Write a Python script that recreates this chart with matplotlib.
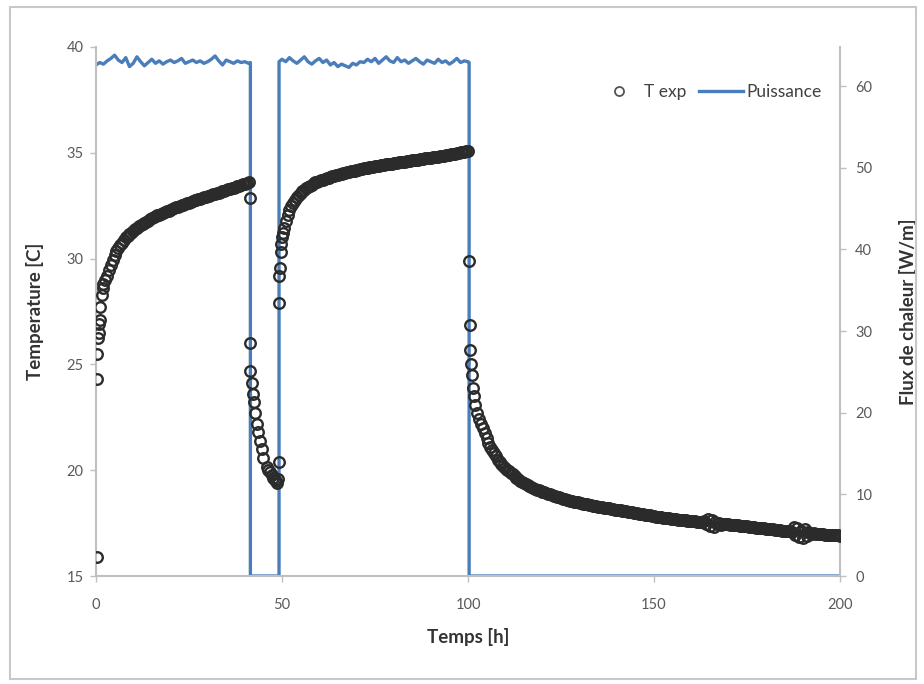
import matplotlib
matplotlib.use("Agg")
import matplotlib.pyplot as plt
from matplotlib.patches import Rectangle
from matplotlib.lines import Line2D

plt.rcParams['font.family'] = ['Lato', 'DejaVu Sans']

# ---------------- data ----------------
# Isolated measurements (fast transients), time [h] / temperature [C]
t_iso = [0.2, 0.3, 0.4, 0.6, 0.7, 0.8, 1.0, 1.2, 1.5, 1.8, 41.3,
         41.4, 41.45, 41.9, 42.3, 42.4, 42.7, 43.2, 43.6, 44.1, 44.5, 45.0,
         45.9, 46.3, 46.8, 47.2, 47.6, 48.0, 48.3, 48.7,
         49.0, 49.1, 49.2, 49.3, 49.4, 49.6, 49.8, 50.0, 50.2,
         100.3, 100.5, 100.6, 100.8, 101.0, 101.3, 101.6]
T_iso = [15.9, 24.3, 25.5, 26.25, 26.5, 26.9, 27.1, 27.7, 28.3, 28.6, 32.85,
         26.0, 24.7, 24.1, 23.6, 23.2, 22.7, 22.2, 21.8, 21.4, 21.0, 20.6,
         20.15, 20.0, 19.9, 19.75, 19.65, 19.55, 19.5, 19.4,
         19.6, 20.4, 27.9, 29.2, 29.55, 30.3, 30.7, 31.0, 31.2,
         29.9, 26.85, 25.7, 25.0, 24.5, 23.9, 23.5]

# Regularly logged measurements (every 0.5 h)
step_h = 0.5
start_heat1 = 2.0
T_heat1 = [28.8, 29.0, 29.2, 29.45, 29.7, 29.95, 30.15, 30.35, 30.5, 30.65,
           30.75, 30.9, 31.0, 31.08, 31.15, 31.22, 31.3, 31.38, 31.45, 31.52,
           31.58, 31.64, 31.7, 31.75, 31.8, 31.85, 31.9, 31.95, 32.0, 32.04,
           32.08, 32.12, 32.16, 32.2, 32.24, 32.27, 32.3, 32.34, 32.38, 32.42,
           32.45, 32.48, 32.52, 32.55, 32.58, 32.62, 32.65, 32.69, 32.72, 32.75,
           32.78, 32.81, 32.84, 32.87, 32.9, 32.92, 32.95, 32.98, 33.0, 33.03,
           33.06, 33.09, 33.12, 33.15, 33.18, 33.21, 33.24, 33.27, 33.3, 33.33,
           33.36, 33.39, 33.42, 33.45, 33.48, 33.51, 33.54, 33.57, 33.6]

start_heat2 = 50.5
T_heat2 = [31.45, 31.8, 32.05, 32.3, 32.5, 32.65, 32.78, 32.9, 33.0, 33.1,
           33.18, 33.25, 33.33, 33.4, 33.45, 33.5, 33.55, 33.6, 33.64, 33.67,
           33.7, 33.73, 33.77, 33.8, 33.83, 33.85, 33.88, 33.9, 33.93, 33.95,
           33.98, 34.0, 34.03, 34.05, 34.08, 34.1, 34.12, 34.14, 34.16, 34.18,
           34.2, 34.22, 34.24, 34.26, 34.28, 34.3, 34.32, 34.33, 34.35, 34.36,
           34.38, 34.39, 34.41, 34.42, 34.44, 34.45, 34.47, 34.48, 34.49, 34.5,
           34.52, 34.53, 34.55, 34.56, 34.57, 34.58, 34.6, 34.61, 34.63, 34.64,
           34.66, 34.67, 34.68, 34.69, 34.71, 34.72, 34.74, 34.75, 34.76, 34.77,
           34.79, 34.8, 34.81, 34.82, 34.84, 34.85, 34.87, 34.88, 34.9, 34.91,
           34.93, 34.94, 34.96, 34.98, 35.0, 35.02, 35.04, 35.06, 35.08, 35.1]

start_cool = 102.0
T_cool = [23.1, 22.7, 22.4, 22.2, 22.0, 21.75, 21.5, 21.3, 21.1, 20.95,
          20.8, 20.65, 20.5, 20.4, 20.3, 20.2, 20.1, 20.02, 19.95, 19.87,
          19.8, 19.72, 19.65, 19.57, 19.5, 19.45, 19.4, 19.35, 19.3, 19.25,
          19.2, 19.16, 19.12, 19.08, 19.05, 19.01, 18.98, 18.95, 18.92, 18.89,
          18.86, 18.83, 18.8, 18.77, 18.74, 18.71, 18.68, 18.65, 18.63, 18.6,
          18.58, 18.56, 18.54, 18.52, 18.5, 18.48, 18.46, 18.44, 18.42, 18.4,
          18.38, 18.36, 18.35, 18.33, 18.32, 18.3, 18.28, 18.26, 18.25, 18.23,
          18.22, 18.2, 18.19, 18.17, 18.16, 18.14, 18.13, 18.11, 18.1, 18.08,
          18.07, 18.05, 18.04, 18.02, 18.01, 17.99, 17.98, 17.96, 17.95, 17.93,
          17.92, 17.9, 17.89, 17.87, 17.86, 17.84, 17.83, 17.81, 17.8, 17.79,
          17.78, 17.76, 17.75, 17.74, 17.73, 17.71, 17.7, 17.69, 17.68, 17.67,
          17.66, 17.65, 17.64, 17.63, 17.62, 17.61, 17.6, 17.59, 17.58, 17.57,
          17.56, 17.55, 17.54, 17.6, 17.45, 17.7, 17.35, 17.65, 17.3, 17.55,
          17.45, 17.5, 17.4, 17.47, 17.46, 17.45, 17.44, 17.43, 17.42, 17.41,
          17.4, 17.39, 17.38, 17.37, 17.36, 17.35, 17.34, 17.33, 17.32, 17.31,
          17.3, 17.29, 17.28, 17.27, 17.26, 17.25, 17.24, 17.23, 17.22, 17.21,
          17.2, 17.19, 17.18, 17.17, 17.16, 17.15, 17.14, 17.13, 17.12, 17.11,
          17.1, 17.3, 16.95, 17.25, 16.85, 17.15, 16.8, 17.2, 16.9, 17.1,
          17.05, 17.0, 17.02, 16.99, 17.0, 16.98, 16.97, 16.98, 16.96, 16.95,
          16.95, 16.94, 16.93, 16.93, 16.92, 16.92, 16.91]

# Heat flux (Puissance), W/m
t_power = [0, 1, 2, 3, 4, 5, 6, 7, 8, 9, 10, 11, 12, 13, 14, 15, 16, 17, 18, 19,
           20, 21, 22, 23, 24, 25, 26, 27, 28, 29, 30, 31, 32, 33, 34, 35, 36, 37,
           38, 39, 40, 41, 41.5, 41.5, 49.2, 49.2,
           50, 51, 52, 53, 54, 55, 56, 57, 58, 59, 60, 61, 62, 63, 64, 65, 66, 67,
           68, 69, 70, 71, 72, 73, 74, 75, 76, 77, 78, 79, 80, 81, 82, 83, 84, 85,
           86, 87, 88, 89, 90, 91, 92, 93, 94, 95, 96, 97, 98, 99, 100, 100.3,
           100.3, 200]
P_power = [62.6, 62.9, 62.7, 63.1, 63.4, 63.8, 63.2, 62.9, 63.5, 62.4, 62.8,
           63.6, 63.0, 62.5, 62.9, 63.3, 62.8, 63.1, 62.7, 63.0, 63.2, 62.9, 63.1,
           63.4, 62.8, 63.0, 63.2, 62.9, 63.1, 62.8, 63.0, 63.3, 63.7, 63.1, 62.6,
           63.2, 63.0, 62.8, 63.1, 62.9, 63.0, 62.8, 62.9, 0, 0, 63.0,
           63.3, 63.0, 63.5, 63.1, 62.8, 63.2, 63.6, 63.0, 62.7, 63.1, 63.4, 62.9,
           63.2, 62.6, 62.9, 62.4, 62.7, 62.5, 62.3, 62.8, 62.6, 63.0, 62.9, 63.3,
           63.0, 63.4, 62.8, 63.2, 63.6, 63.1, 62.9, 63.5, 63.0, 63.2, 62.8, 63.1,
           63.4, 63.0, 62.7, 63.2, 63.0, 62.8, 63.3, 62.9, 63.1, 62.7, 63.0, 63.4,
           62.9, 63.1, 63.0, 62.9, 0, 0]

T_ticks = [15, 20, 25, 30, 35, 40]
P_ticks = [0, 10, 20, 30, 40, 50, 60]
x_ticks = [0, 50, 100, 150, 200]


def times(start, values):
    return [start + step_h * i for i in range(len(values))]


# ---------------- figure ----------------
W, H = 924, 684
fig = plt.figure(figsize=(W / 100, H / 100), dpi=100)
fig.patch.set_facecolor('white')

fig.add_artist(Rectangle((10 / W, 5 / H), 906 / W, 672 / H, transform=fig.transFigure,
                         fill=False, edgecolor='#c8c8c8', linewidth=1.5))

ax = fig.add_axes([96 / W, 1 - 576 / H, (840 - 96) / W, (576 - 47) / H])
ax2 = ax.twinx()

axis_gray = '#bfbfbf'
tick_col = '#595959'
blue = '#4a7ebb'
mk = dict(linestyle='none', marker='o', markersize=7.6, markerfacecolor='none',
          markeredgecolor='#2b2b2b', markeredgewidth=1.7, zorder=3)

ax.plot(t_iso, T_iso, **mk)
ax.plot(times(start_heat1, T_heat1), T_heat1, **mk)
ax.plot(times(start_heat2, T_heat2), T_heat2, **mk)
ax.plot(times(start_cool, T_cool), T_cool, **mk)

ax2.plot(t_power, P_power, color=blue, linewidth=2.4, zorder=2)

ax.set_xlim(0, 200)
ax.set_ylim(15, 40)
ax2.set_ylim(0, 64.8)
ax.set_zorder(ax2.get_zorder() + 1)
ax.patch.set_visible(False)

ax.set_xticks(x_ticks)
ax.set_yticks(T_ticks)
ax2.set_yticks(P_ticks)

for a in (ax, ax2):
    a.spines['top'].set_visible(False)
    for s in ('left', 'right', 'bottom'):
        a.spines[s].set_color(axis_gray)
        a.spines[s].set_linewidth(1.5)
    a.tick_params(colors=axis_gray, labelcolor=tick_col, labelsize=10.5,
                  length=4, width=1, direction='out')
ax.spines['right'].set_visible(False)
ax2.spines['left'].set_visible(False)
ax2.spines['bottom'].set_visible(False)
ax.tick_params(axis='x', pad=12)
ax.tick_params(axis='y', pad=5)
ax2.tick_params(axis='y', pad=7)

lab = dict(fontsize=13.5, fontweight='bold', color='#333333')
ax.set_xlabel('Temps [h]', **lab)
ax.set_ylabel('Temperature [C]', **lab)
ax2.set_ylabel('Flux de chaleur [W/m]', **lab)
ax.xaxis.set_label_coords(0.5, (576 - 628) / 529)
ax.yaxis.set_label_coords((44 - 96) / 744, 0.5)
ax2.yaxis.set_label_coords((899 - 96) / 744, 0.5)

handles = [Line2D([], [], linestyle='none', marker='o', markersize=6.5,
                  markerfacecolor='none', markeredgecolor='#555555', markeredgewidth=1.3),
           Line2D([], [], color=blue, linewidth=2.4)]
leg = ax.legend(handles, ['T exp', 'Puissance'], loc='center right',
                bbox_to_anchor=(0.975, 0.915), ncol=2, frameon=False, fontsize=12.5,
                handlelength=2.5, handletextpad=0.2, columnspacing=0.75,
                borderpad=0, borderaxespad=0)
for txt in leg.get_texts():
    txt.set_color('#404040')

fig.savefig('out.png', dpi=100, facecolor='white')
